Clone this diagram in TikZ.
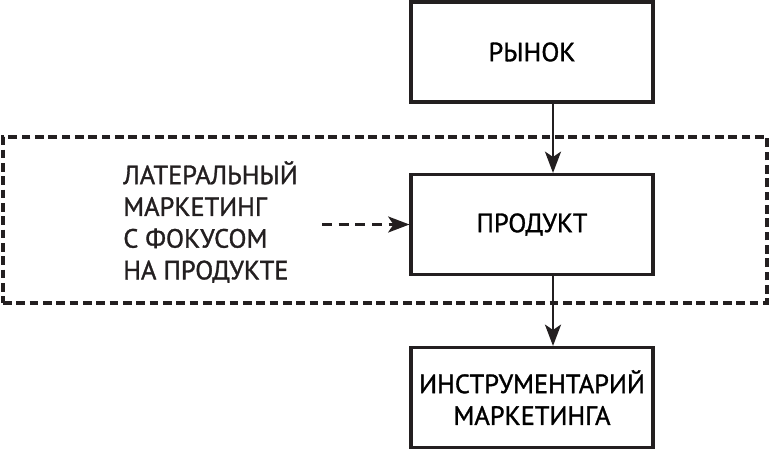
\documentclass[tikz,border=0pt]{standalone}
\usepackage{fontspec}
\setmainfont{PT Sans}[FakeBold=1.2]
\usetikzlibrary{positioning, arrows.meta}
\definecolor{DiagramInk}{HTML}{231F20}

\begin{document}
\begin{tikzpicture}[x=0.75pt, y=-0.75pt, font=\fontsize{19.8}{23.8}\selectfont,
    block/.style={draw=DiagramInk, line width=2.3pt, fill=white, minimum width=181.5pt, minimum height=75pt, align=center, inner sep=0pt},
    flow/.style={-{Stealth[length=16pt, width=12pt, inset=4pt]}, line width=2pt, DiagramInk},
    frame/.style={draw=DiagramInk, line width=2.3pt, dash pattern=on 6.5pt off 3.5pt, minimum width=573pt, minimum height=124.5pt, inner sep=0pt}]
    \useasboundingbox (0,0) rectangle (770,450);

    % Lateral zone
    \node[frame] (zone) at (385,220) {};

    \node[block] (market) at (532,52) {РЫНОК};
    \node[block] (product) at (532,224.5) {ПРОДУКТ};
    \node[block] (toolkit) at (532,397.5) {ИНСТРУМЕНТАРИЙ\\МАРКЕТИНГА};

    \coordinate (axis) at (553,0);
    \draw[flow] (market.south -| axis) -- (product.north -| axis);
    \draw[flow] (product.south -| axis) -- (toolkit.north -| axis);

    % Lateral input
    \node[anchor=west, align=left, inner sep=0pt, text=DiagramInk] (lateral) at (123,222) {ЛАТЕРАЛЬНЫЙ\\МАРКЕТИНГ\\С ФОКУСОМ\\НА ПРОДУКТЕ};
    \coordinate (lateralstart) at (322,224.5);
    \draw[flow, dash pattern=on 7.5pt off 5pt] (lateralstart) -- (product.west);
\end{tikzpicture}
\end{document}
